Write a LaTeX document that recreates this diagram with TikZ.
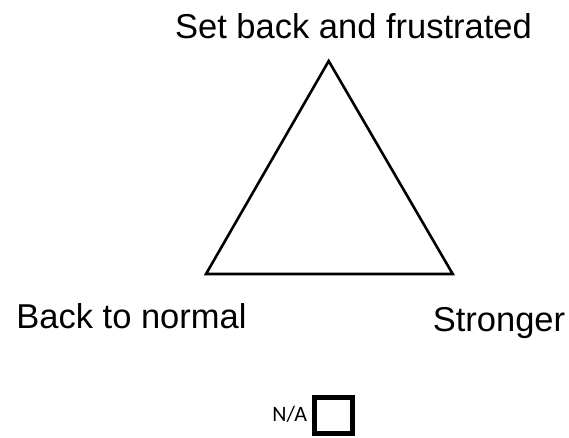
\documentclass[tikz,border=0pt]{standalone}
\usepackage{fontspec}
\setmainfont{Liberation Sans}
\newfontfamily\smallfont{Carlito}
\usepackage{tikz}
\usetikzlibrary{positioning,calc}
\tikzset{
  vlabel/.style={anchor=base, inner sep=0pt, font=\fontsize{34.5}{40}\selectfont},
  tri/.style={draw=black, line width=2.6pt, line join=miter},
  checkbox/.style={draw=black, line width=5pt, minimum width=38pt,
                   minimum height=36pt, inner sep=0pt},
}

\begin{document}
\begin{tikzpicture}[x=1pt,y=-1pt]
    \useasboundingbox (0,0) rectangle (569,437);
    % corners of the triangle
    \coordinate (top) at (328.7,61);
    \coordinate (left) at (206,274);
    \coordinate (right) at (452.7,274);
    \draw[tri] (top) -- (left) -- (right) -- cycle;
    \node[vlabel] (setback) at (353.5,38) {Set back and frustrated};
    \node[vlabel] (normal) at (131.5,328.5) {Back to normal};
    \node[vlabel] (stronger) at (499,331.5) {Stronger};
    \node[checkbox] (nabox) at (333.5,415) {};
    \node[anchor=base, inner sep=0pt, font=\smallfont\fontsize{22}{24}\selectfont] (na) at (289.7,421.7) {N/A};
  \end{tikzpicture}
\end{document}
